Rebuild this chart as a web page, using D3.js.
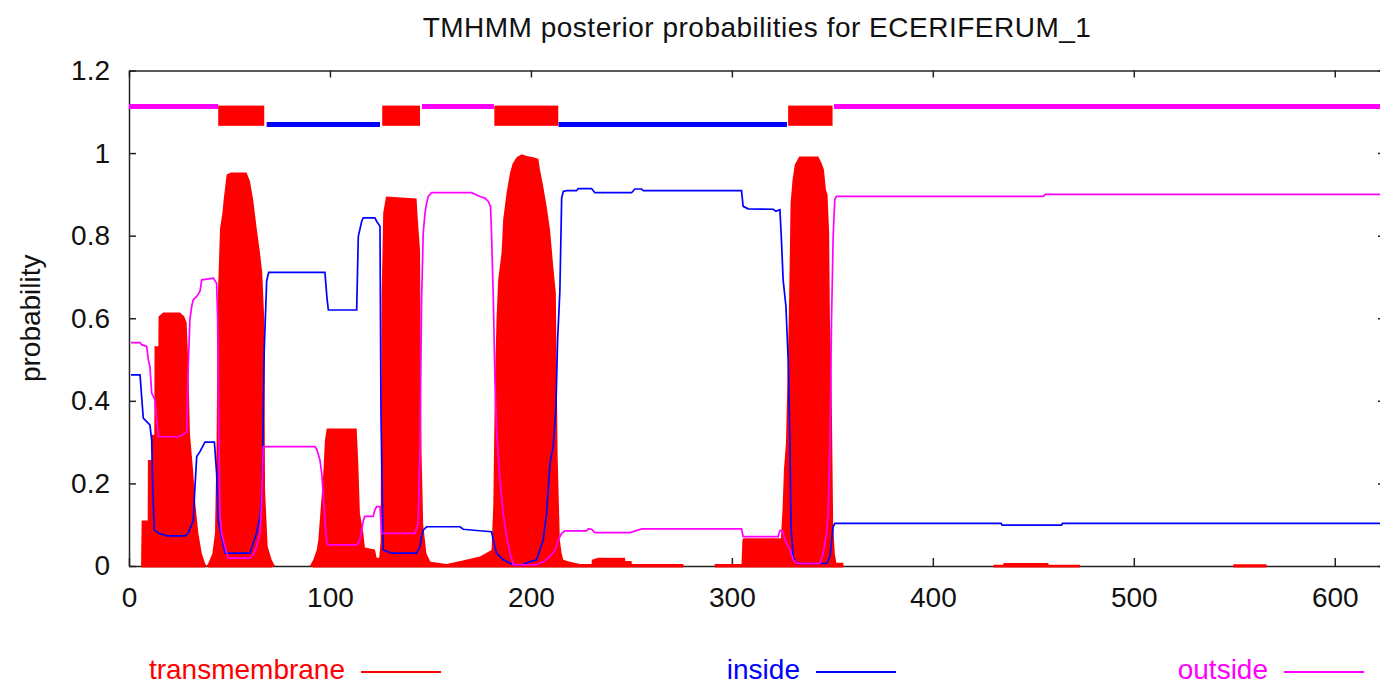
<!DOCTYPE html>
<html>
<head>
<meta charset="utf-8">
<script src="https://cdn.jsdelivr.net/npm/d3@7"></script>
<style>
    body { margin: 0; background: #fff; }
    text { font-family: "Liberation Sans", Arial, sans-serif; }
</style>
</head>
<body>
<div id="tmChart"></div>
<script>

let chartTitle = "TMHMM posterior probabilities for ECERIFERUM_1";
let seqLength = 625;

let xTicks = [0, 100, 200, 300, 400, 500, 600];
let yTicks = [0, 0.2, 0.4, 0.6, 0.8, 1, 1.2];
let yTickLabels = ["0", "0.2", "0.4", "0.6", "0.8", "1", "1.2"];

let legendNames = ["transmembrane", "inside", "outside"];

// [position, probability]
let tmPoints = [
    [0, 0], [6, 0], [6.3, 0.11], [9.3, 0.11], [9.4, 0.257], [11.3, 0.257], [11.4, 0.318],
    [12.6, 0.318], [12.7, 0.532], [14.6, 0.532], [14.7, 0.604], [17, 0.614], [25.4, 0.614],
    [27.5, 0.604], [28.7, 0.59], [29.5, 0.492], [30.3, 0.322], [32, 0.225], [32.8, 0.16],
    [34.5, 0.08], [36.2, 0.031], [37.8, 0.007], [38.6, 0], [39.5, 0.007], [41.5, 0.03],
    [42.8, 0.08], [43.6, 0.3], [44.1, 0.637], [45.3, 0.818], [46.4, 0.851], [47.2, 0.891],
    [48.6, 0.948], [50.8, 0.953], [58.5, 0.953], [60.2, 0.932], [61.8, 0.887], [63.5, 0.819],
    [65.2, 0.758], [66.3, 0.71], [67.3, 0.6], [67.7, 0.184], [69, 0.047], [71, 0.015],
    [72.6, 0], [90, 0], [91.7, 0.015], [93.4, 0.039], [94.2, 0.063], [95.1, 0.12],
    [96.7, 0.225], [97.5, 0.305], [98.4, 0.333], [113.3, 0.333], [114.1, 0.249],
    [114.9, 0.128], [116.6, 0.08], [117.4, 0.045], [122.4, 0.04], [123.2, 0.02],
    [124.5, 0.02], [125.2, 0.06], [125.7, 0.65], [126.5, 0.855], [127.9, 0.895],
    [143.1, 0.89], [143.6, 0.847], [144.8, 0.766], [145.6, 0.27], [146.4, 0.1], [148, 0.03],
    [150, 0.01], [158, 0.005], [165.5, 0.013], [174.6, 0.023], [180.4, 0.039],
    [181.3, 0.152], [182.1, 0.45], [182.9, 0.6], [183.7, 0.693], [185.4, 0.759],
    [186.2, 0.839], [187.9, 0.904], [189.6, 0.952], [190.9, 0.975], [192.9, 0.99],
    [195.4, 0.997], [197.9, 0.993], [201.2, 0.99], [203.7, 0.986], [204.5, 0.96],
    [206.1, 0.92], [207.8, 0.871], [209.5, 0.815], [211.1, 0.726], [212.4, 0.661],
    [213.3, 0.265], [214.4, 0.063], [215.3, 0.03], [216.1, 0.015], [219.4, 0.01],
    [224.4, 0.005], [230.2, 0.005], [230.3, 0.015], [233.4, 0.02], [246.8, 0.02],
    [247, 0.012], [250.1, 0.012], [250.2, 0.005], [275.8, 0.005], [276, 0], [291.3, 0],
    [291.5, 0.005], [304.8, 0.005], [305.2, 0.06], [305.6, 0.067], [324.4, 0.067],
    [325.2, 0.136], [325.9, 0.233], [326.9, 0.297], [327.7, 0.459], [328.5, 0.653],
    [329.2, 0.879], [330.2, 0.936], [331.3, 0.972], [333.5, 0.992], [343, 0.992],
    [344.6, 0.976], [345.8, 0.96], [346.8, 0.911], [347.6, 0.9], [348.4, 0.806],
    [348.8, 0.6], [349.6, 0.45], [350.4, 0.1], [351.2, 0.03], [352, 0.008], [355.4, 0.008],
    [355.6, 0], [430, 0], [430.2, 0.003], [435, 0.003], [435.2, 0.007], [457.4, 0.007],
    [457.6, 0.003], [473.1, 0.003], [473.3, 0], [549.4, 0], [549.6, 0.004], [566, 0.004],
    [566.2, 0], [625, 0]
];

let insidePoints = [
    [1, 0.463], [5.5, 0.463], [6.3, 0.41], [7.1, 0.358], [10.4, 0.342], [11.3, 0.305],
    [11.8, 0.19], [12.6, 0.087], [14.6, 0.08], [18.7, 0.073], [27.9, 0.073], [29.5, 0.08],
    [32, 0.11], [32.8, 0.19], [33.7, 0.265], [35.3, 0.277], [37.8, 0.3], [42.5, 0.3],
    [43.6, 0.225], [44.4, 0.11], [47.8, 0.031], [60.2, 0.031], [61.8, 0.055], [63.5, 0.08],
    [65.2, 0.12], [66.3, 0.2], [67.3, 0.524], [68.5, 0.69], [69.5, 0.711], [97.5, 0.711],
    [98.5, 0.65], [99.2, 0.62], [113.3, 0.62], [114.1, 0.798], [115.8, 0.835],
    [116.6, 0.843], [122.4, 0.843], [123.2, 0.835], [124.9, 0.823], [125.4, 0.36],
    [126.5, 0.039], [130.7, 0.031], [143.1, 0.031], [144.8, 0.047], [145.6, 0.071],
    [146.4, 0.087], [148.1, 0.095], [164.7, 0.095], [166.3, 0.089], [173, 0.086],
    [180.4, 0.083], [181.3, 0.063], [182.9, 0.031], [186.2, 0.015], [191.2, 0.003],
    [196, 0.003], [197.9, 0.008], [202.8, 0.015], [206.1, 0.063], [207.8, 0.128],
    [209.5, 0.249], [211.1, 0.289], [212.4, 0.378], [213.3, 0.55], [214.4, 0.665],
    [215.3, 0.891], [216.1, 0.907], [217.8, 0.909], [222.7, 0.909], [223.5, 0.914],
    [230.2, 0.914], [231.8, 0.904], [250.1, 0.904], [251.7, 0.913], [255.1, 0.913],
    [255.9, 0.909], [304.8, 0.909], [305.6, 0.871], [308.1, 0.865], [320.6, 0.864],
    [321.9, 0.859], [323.9, 0.863], [324.7, 0.786], [325.5, 0.693], [326.9, 0.629],
    [328, 0.5], [328.9, 0.298], [329.4, 0.095], [330.5, 0.023], [332.2, 0.006],
    [347.1, 0.006], [348.8, 0.023], [350.4, 0.095], [351.2, 0.103], [434, 0.103],
    [434.5, 0.099], [464, 0.099], [464.5, 0.103], [625, 0.103]
];

let outsidePoints = [
    [1, 0.541], [5.5, 0.541], [6.3, 0.536], [8.8, 0.532], [9.6, 0.5], [10.4, 0.483],
    [11.3, 0.419], [12.9, 0.402], [13.8, 0.354], [14.6, 0.313], [24.5, 0.313], [27, 0.318],
    [28.7, 0.326], [29.5, 0.483], [30.3, 0.596], [31.2, 0.629], [32, 0.645], [33.7, 0.653],
    [35.3, 0.665], [36.2, 0.693], [42, 0.697], [43.6, 0.685], [44.1, 0.6], [44.5, 0.4],
    [45.3, 0.12], [46.1, 0.079], [47.8, 0.047], [49.4, 0.019], [60.2, 0.019], [61.8, 0.027],
    [63.5, 0.047], [65.2, 0.079], [66, 0.16], [66.8, 0.289], [92.5, 0.289], [93.4, 0.283],
    [95, 0.257], [95.9, 0.225], [96.7, 0.168], [97.5, 0.11], [98.4, 0.055], [99.2, 0.051],
    [113.3, 0.051], [114.9, 0.063], [116.6, 0.11], [117.4, 0.12], [121.5, 0.12],
    [122.4, 0.136], [123.2, 0.144], [124.9, 0.144], [125.7, 0.079], [142.3, 0.079],
    [143.9, 0.103], [144.8, 0.289], [145.6, 0.645], [146.4, 0.806], [147.3, 0.855],
    [148.1, 0.879], [148.9, 0.895], [150.6, 0.904], [170.5, 0.904], [174.6, 0.895],
    [177.1, 0.891], [178.8, 0.883], [179.9, 0.871], [180.4, 0.806], [181.3, 0.645],
    [182.1, 0.45], [182.9, 0.33], [184.6, 0.208], [186.2, 0.128], [187.9, 0.071],
    [189.6, 0.031], [191.2, 0.003], [202.8, 0.003], [206.1, 0.01], [209.5, 0.023],
    [212, 0.039], [213.6, 0.063], [215.3, 0.079], [216.9, 0.085], [227.7, 0.085],
    [228.5, 0.09], [230.2, 0.089], [231.8, 0.081], [249.3, 0.081], [255.1, 0.09],
    [304.8, 0.09], [305.6, 0.071], [323, 0.071], [323.9, 0.086], [325.2, 0.085],
    [326.4, 0.063], [328.9, 0.039], [330.5, 0.015], [332.2, 0.006], [343.8, 0.006],
    [345.4, 0.031], [347.1, 0.079], [347.9, 0.128], [348.8, 0.289], [349.6, 0.6],
    [350.4, 0.798], [351.2, 0.887], [352, 0.895], [455, 0.895], [456, 0.9], [625, 0.9]
];

// predicted topology: [type, start, end]
let topology = [
    ["outside", 0, 44.4], ["TMhelix", 44.4, 67.3], ["inside", 68.5, 124.9],
    ["TMhelix", 126, 144.8], ["outside", 145.8, 181.6], ["TMhelix", 181.8, 213.6],
    ["inside", 213.7, 327.4], ["TMhelix", 328, 350.1], ["outside", 350.8, 625]
];
let topoLevels = {outside: 1.113, inside: 1.069, tmTop: 1.115, tmBottom: 1.066};

class PosteriorChart {

    constructor (){
        this.width = 1380;
        this.height = 686;
        this.colors = {transmembrane: "#ff0000", inside: "#0000ff", outside: "#ff00ff"};

        this.svg = d3.select("#tmChart").append("svg")
                     .attr("width", this.width)
                     .attr("height", this.height)
                     .style("background", "#fff");

        this.x = d3.scaleLinear().domain([0, seqLength]).range([129, 1385]);
        this.y = d3.scaleLinear().domain([0, 1.2]).range([566, 70.5]);
    };

    drawAxes (){
        let x = this.x, y = this.y;

        let bottom = this.svg.append("g")
                         .attr("transform", "translate(0," + y(0) + ")")
                         .call(d3.axisBottom(x).tickValues(xTicks).tickSizeInner(-8)
                                 .tickSizeOuter(0).tickPadding(21));
        let left = this.svg.append("g")
                       .attr("transform", "translate(" + x(0) + ",0)")
                       .call(d3.axisLeft(y).tickValues(yTicks).tickSizeInner(-7).tickSizeOuter(0)
                               .tickPadding(19).tickFormat((d, i) => yTickLabels[i]));
        let top = this.svg.append("g")
                      .attr("transform", "translate(0," + y(1.2) + ")")
                      .call(d3.axisTop(x).tickValues(xTicks).tickSizeInner(-7)
                              .tickSizeOuter(0).tickFormat(""));
        let right = this.svg.append("g")
                        .attr("transform", "translate(" + x(seqLength) + ",0)")
                        .call(d3.axisRight(y).tickValues(yTicks).tickSizeInner(-7)
                                .tickSizeOuter(0).tickFormat(""));

        [bottom, left, top, right].forEach(function(g) {
            g.selectAll("path, line").attr("stroke", "#222").attr("stroke-width", 1.5);
            g.selectAll("text").attr("font-size", 28).attr("fill", "#111")
             .attr("font-family", "Liberation Sans, Arial, sans-serif");
        });

        this.svg.append("text")
                .attr("transform", "translate(40," + y(0.6) + ") rotate(-90)")
                .attr("text-anchor", "middle")
                .attr("font-size", 28)
                .attr("fill", "#111")
                .text("probability");

        this.svg.append("text")
                .attr("x", 757)
                .attr("y", 37)
                .attr("text-anchor", "middle")
                .attr("font-size", 28)
                .attr("letter-spacing", 0.5)
                .attr("fill", "#111")
                .text(chartTitle);
    };

    drawCurves (){
        let x = this.x, y = this.y;

        let tmArea = d3.area()
                       .x(d => x(d[0]))
                       .y0(d => d[1] > 0 ? y(0) + 1.5 : y(0))
                       .y1(d => y(d[1]));

        this.svg.append("path")
                .datum(tmPoints)
                .attr("d", tmArea)
                .attr("fill", this.colors.transmembrane);

        let line = d3.line()
                     .x(d => x(d[0]))
                     .y(d => y(d[1]));

        this.svg.append("path")
                .datum(insidePoints)
                .attr("d", line)
                .attr("fill", "none")
                .attr("stroke", this.colors.inside)
                .attr("stroke-width", 1.7);

        this.svg.append("path")
                .datum(outsidePoints)
                .attr("d", line)
                .attr("fill", "none")
                .attr("stroke", this.colors.outside)
                .attr("stroke-width", 1.7);
    };

    drawTopology (){
        let that = this;
        let x = this.x, y = this.y;

        let helices = topology.filter(d => d[0] == "TMhelix");
        let loops = topology.filter(d => d[0] != "TMhelix");

        this.svg.selectAll("line.loop")
                .data(loops)
                .enter()
                .append("line")
                .attr("class", "loop")
                .attr("x1", d => x(d[1]))
                .attr("x2", d => x(d[2]))
                .attr("y1", d => y(topoLevels[d[0]]))
                .attr("y2", d => y(topoLevels[d[0]]))
                .attr("stroke", d => that.colors[d[0]])
                .attr("stroke-width", 5);

        this.svg.selectAll("rect.helix")
                .data(helices)
                .enter()
                .append("rect")
                .attr("class", "helix")
                .attr("x", d => x(d[1]))
                .attr("width", d => x(d[2]) - x(d[1]))
                .attr("y", y(topoLevels.tmTop))
                .attr("height", y(topoLevels.tmBottom) - y(topoLevels.tmTop))
                .attr("fill", this.colors.transmembrane);
    };

    drawLegend (){
        let that = this;
        let textEnds = [345, 800, 1268];

        let items = this.svg.selectAll("g.legend")
                        .data(legendNames)
                        .enter()
                        .append("g")
                        .attr("class", "legend")
                        .attr("transform", (d, i) => "translate(" + textEnds[i] + ",679)");

        items.append("text")
             .attr("text-anchor", "end")
             .attr("font-size", 28)
             .attr("fill", d => that.colors[d])
             .text(d => d);

        items.append("line")
             .attr("x1", 16)
             .attr("x2", 96)
             .attr("y1", -7)
             .attr("y2", -7)
             .attr("stroke", d => that.colors[d])
             .attr("stroke-width", 2);
    };

    update (){
        this.drawAxes();
        this.drawTopology();
        this.drawCurves();
        this.drawLegend();
    };
}

let chart = new PosteriorChart();
chart.update();

</script>
</body>
</html>
